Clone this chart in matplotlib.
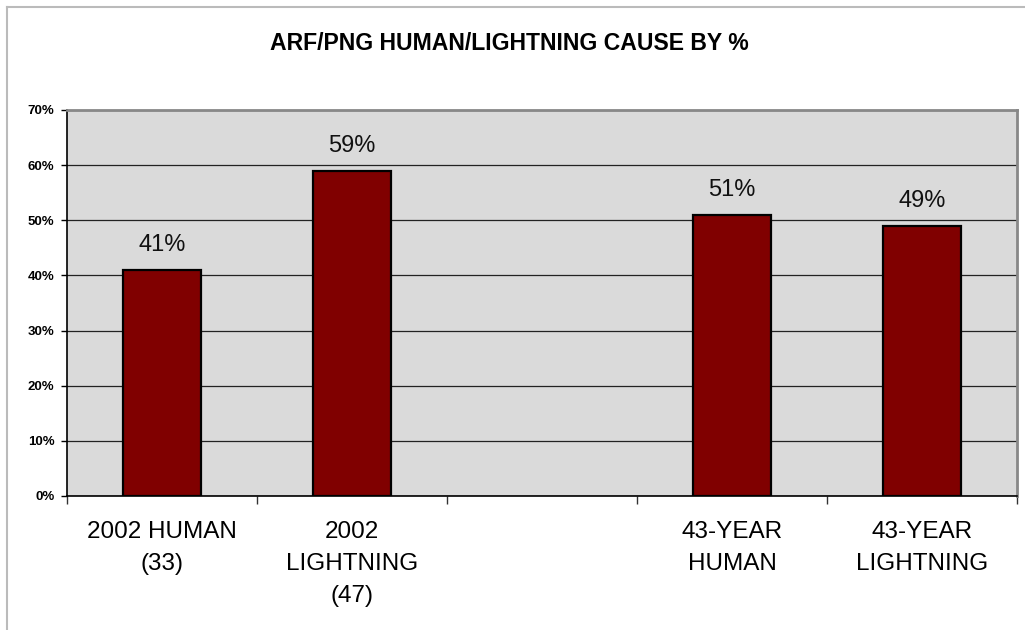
import matplotlib
matplotlib.use("Agg")
import matplotlib.pyplot as plt
from matplotlib.ticker import FixedLocator, FuncFormatter
from matplotlib.lines import Line2D

categories = ["2002 HUMAN\n(33)", "2002\nLIGHTNING\n(47)", "", "43-YEAR\nHUMAN", "43-YEAR\nLIGHTNING"]
values = [41, 59, None, 51, 49]
yticks = [0, 10, 20, 30, 40, 50, 60, 70]
title = "ARF/PNG HUMAN/LIGHTNING CAUSE BY %"

plt.rcParams["font.family"] = ["Liberation Sans", "DejaVu Sans"]

fig = plt.figure(figsize=(10.25, 6.3), dpi=100)
ax = fig.add_axes([67 / 1025, 1 - 496 / 630, 950 / 1025, 386 / 630])
ax.set_facecolor("#dadada")

xs = [i for i, v in enumerate(values) if v is not None]
hs = [v for v in values if v is not None]
bars = ax.bar(xs, hs, width=0.41, color="#800000", edgecolor="black",
              linewidth=1.6, zorder=3)
for x, h in zip(xs, hs):
    ax.annotate(f"{h}%", (x, h), xytext=(0, 10), textcoords="offset points",
                ha="center", va="bottom", fontsize=17, color="#111111")

ax.set_xlim(-0.5, len(categories) - 0.5)
ax.set_ylim(0, 70)
ax.yaxis.set_major_locator(FixedLocator(yticks))
ax.yaxis.set_major_formatter(FuncFormatter(lambda v, p: f"{int(v)}%"))
ax.grid(axis="y", color="#222222", linewidth=0.9, zorder=1)
ax.set_axisbelow(True)

ax.set_xticks(range(len(categories)))
ax.set_xticklabels(categories, fontsize=17.5, linespacing=1.6)
ax.set_xticks([i - 0.5 for i in range(len(categories) + 1)], minor=True)
ax.tick_params(axis="x", which="major", length=0, pad=18)
ax.tick_params(axis="x", which="minor", length=6, width=1, color="#333333")
ax.tick_params(axis="y", length=4, width=1, pad=5, labelsize=9.5)
for lbl in ax.get_yticklabels():
    lbl.set_fontweight("bold")

ax.spines["left"].set_color("black")
ax.spines["bottom"].set_color("black")
ax.spines["left"].set_linewidth(1.2)
ax.spines["bottom"].set_linewidth(1.2)
ax.spines["top"].set_color("#888888")
ax.spines["right"].set_color("#888888")
ax.spines["top"].set_linewidth(2)
ax.spines["right"].set_linewidth(2)

fig.text(0.497, 1 - 43 / 630, title, ha="center", va="center",
         fontsize=16.6, fontweight="bold")

# chart-area border on the top and left edges
fig.add_artist(Line2D([7 / 1025, 7 / 1025], [0, 1 - 7 / 630],
                      transform=fig.transFigure, color="#bbbbbb", linewidth=1.5))
fig.add_artist(Line2D([7 / 1025, 1], [1 - 7 / 630, 1 - 7 / 630],
                      transform=fig.transFigure, color="#bbbbbb", linewidth=1.5))

fig.savefig("out.png", dpi=100)
